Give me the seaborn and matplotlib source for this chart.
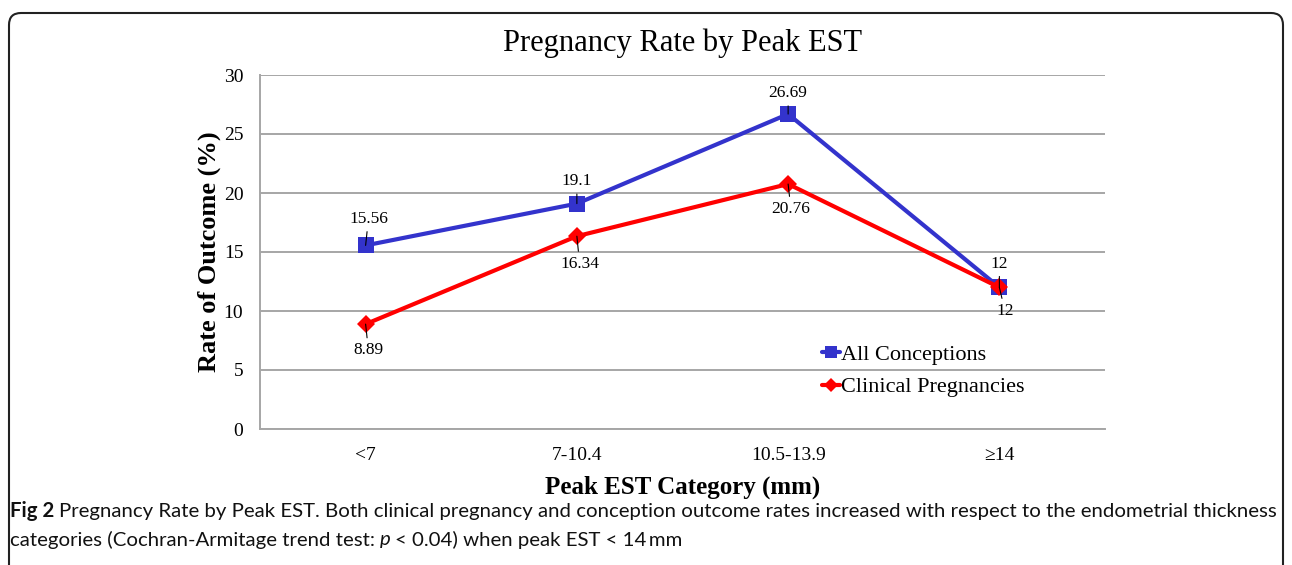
import numpy as np
import pandas as pd
import matplotlib
matplotlib.use("Agg")
import matplotlib.pyplot as plt
import matplotlib.patches as mpatches
from matplotlib.transforms import IdentityTransform
import seaborn as sns

# data
categories = ["<7", "7-10.4", "10.5-13.9", "\u226514"]
all_conceptions = [15.56, 19.1, 26.69, 12]
clinical_pregnancies = [8.89, 16.34, 20.76, 12]
series_names = ["All Conceptions", "Clinical Pregnancies"]

df = pd.DataFrame({
    "pos": list(range(len(categories))) * 2,
    "rate": all_conceptions + clinical_pregnancies,
    "series": [series_names[0]] * 4 + [series_names[1]] * 4,
})

sns.set_theme(style="white")
plt.rcParams["font.family"] = ["Liberation Serif", "DejaVu Serif"]
plt.rcParams["text.color"] = "black"
plt.rcParams["xtick.color"] = "black"
plt.rcParams["ytick.color"] = "black"
plt.rcParams["axes.labelcolor"] = "black"

W, H = 1292, 565
fig = plt.figure(figsize=(W / 100, H / 100), dpi=100)
fig.patch.set_facecolor("white")
ax = fig.add_axes([260 / W, 136 / H, 845 / W, 354 / H])

colors = {"All Conceptions": "#3333CC", "Clinical Pregnancies": "#FF0000"}
sns.lineplot(data=df, x="pos", y="rate", hue="series", style="series",
             palette=colors, markers={"All Conceptions": "s", "Clinical Pregnancies": "D"},
             dashes=False, linewidth=3, markersize=11, markeredgewidth=0, ax=ax, zorder=3)

# diamond slightly smaller than the square
for line in ax.get_lines():
    if line.get_marker() == "D":
        line.set_markersize(9.5)

ax.set_xlim(-0.5, len(categories) - 0.5)
ax.set_ylim(0, 30)
ax.set_yticks(np.arange(0, 31, 5))
ax.set_xticks(np.arange(-0.5, len(categories), 1.0))
ax.set_xticklabels([])
ax.set_xticks(range(len(categories)), minor=True)
ax.set_xticklabels(categories, minor=True, fontsize=14)
ax.tick_params(axis="x", which="minor", length=0, pad=13)
ax.tick_params(axis="x", which="major", length=6, width=1, color="#999999", direction="out")
ax.tick_params(axis="y", length=6, width=1, color="#999999", direction="out", labelsize=14,
               labelcolor="black", pad=6)
ax.tick_params(axis="x", labelcolor="black", which="both")
ax.yaxis.grid(True, color="#A6A6A6", linewidth=1.4)
ax.xaxis.grid(False)
for side in ["top", "right"]:
    ax.spines[side].set_visible(False)
for side in ["left", "bottom"]:
    ax.spines[side].set_color("#A6A6A6")
    ax.spines[side].set_linewidth(1.4)

ax.set_title("Pregnancy Rate by Peak EST", fontsize=22, pad=17)
ax.set_xlabel("Peak EST Category (mm)", fontsize=18, fontweight="bold", labelpad=8)
ax.set_ylabel("Rate of Outcome (%)", fontsize=19, fontweight="bold", labelpad=2)

# data labels with short leader lines
offsets_all = [(2, 19), (0, 16), (0, 15), (0, 17)]
offsets_clin = [(2, -19), (2, -20), (2, -18), (4, -17)]
for vals, offs in [(all_conceptions, offsets_all), (clinical_pregnancies, offsets_clin)]:
    for i, (v, off) in enumerate(zip(vals, offs)):
        ax.annotate(f"{v:g}", xy=(i, v), xytext=off, textcoords="offset points",
                    ha="center", va="center", fontsize=12.5,
                    arrowprops=dict(arrowstyle="-", color="black", lw=0.8,
                                    shrinkA=1, shrinkB=0), zorder=4)

leg = ax.legend(loc="upper left", bbox_to_anchor=(0.655, 0.265), frameon=False,
                fontsize=16, handlelength=0.8, handletextpad=0.05, labelspacing=0.55,
                markerscale=0.8, borderaxespad=0)

# rounded frame around the figure panel
frame = mpatches.FancyBboxPatch((9, -30), 1274, H - 11 + 30 - 2,
                                boxstyle="round,pad=0,rounding_size=12",
                                transform=IdentityTransform(), fill=False,
                                edgecolor="#222222", linewidth=1.5)
fig.patches.append(frame)

# caption
cap_font = ["Lato", "DejaVu Sans"]
cap_size = 14.7
cap_color = "#111111"
fig.canvas.draw()
renderer = fig.canvas.get_renderer()
y1 = 1 - 511 / H
y2 = 1 - 540 / H
t = fig.text(10 / W, y1, "Fig 2", fontsize=cap_size, fontweight="bold",
             family=cap_font, va="center", color=cap_color)
bb = t.get_window_extent(renderer)
fig.text((bb.x1 + 5) / W, y1,
         "Pregnancy Rate by Peak EST. Both clinical pregnancy and conception outcome rates "
         "increased with respect to the endometrial thickness",
         fontsize=cap_size, family=cap_font, va="center", color=cap_color)
t = fig.text(10 / W, y2, "categories (Cochran-Armitage trend test: ",
             fontsize=cap_size, family=cap_font, va="center", color=cap_color)
bb = t.get_window_extent(renderer)
t = fig.text(bb.x1 / W, y2, "p", fontsize=cap_size, family=cap_font, style="italic",
             va="center", color=cap_color)
bb = t.get_window_extent(renderer)
fig.text((bb.x1 + 4) / W, y2, "< 0.04) when peak EST < 14\u2009mm",
         fontsize=cap_size, family=cap_font, va="center", color=cap_color)

fig.savefig("out.png", dpi=100)
